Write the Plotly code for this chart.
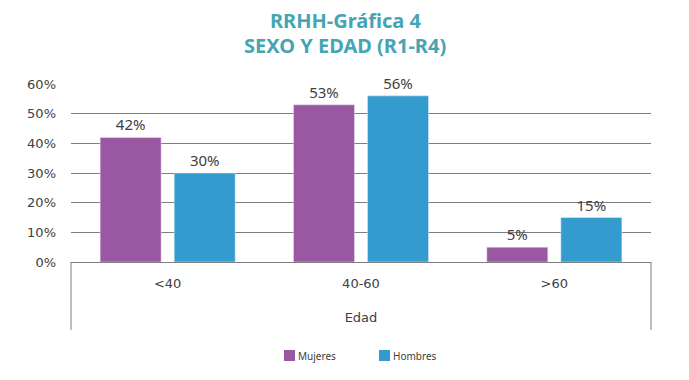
import plotly.graph_objects as go

categories = ["<40", "40-60", ">60"]
mujeres = [0.42, 0.53, 0.05]
hombres = [0.30, 0.56, 0.15]
y_ticks = [0, 0.1, 0.2, 0.3, 0.4, 0.5, 0.6]
y_tick_labels = ["0%", "10%", "20%", "30%", "40%", "50%", "60%"]
series_names = ["Mujeres", "Hombres"]
series_colors = ["#9B58A2", "#339BCE"]

text_color = "#404040"
OFF = 8  # page body margin
W, H = 689 - OFF, 380 - OFF
# plot area in page pixels: x 71..651, y 84..262
L, R, T, B = 71 - OFF, 689 - 651, 84 - OFF, 380 - 262
pw, ph = W - L - R, H - T - B

fig = go.Figure()
for name, vals, col in zip(series_names, [mujeres, hombres], series_colors):
    fig.add_trace(go.Bar(
        name=name, x=categories, y=vals,
        marker_color=col,
        text=[f"{v*100:.0f}%" for v in vals], textposition="outside",
        textfont=dict(size=15, color=text_color, family="Noto Sans"),
        cliponaxis=False,
    ))

def px_x(x):  # page px -> paper
    return (x - OFF - L) / pw

def px_y(y):
    return (H - B - (y - OFF)) / ph

fig.update_layout(
    width=W, height=H,
    margin=dict(l=L, r=R, t=T, b=B, autoexpand=False),
    paper_bgcolor="white", plot_bgcolor="white",
    barmode="group", bargap=0.234, bargroupgap=0.176,
    font=dict(family="DejaVu Sans", color=text_color, size=13),
    showlegend=False,
)
for txt, yc in [("RRHH-Gráfica 4", 20), ("SEXO Y EDAD (R1-R4)", 46)]:
    fig.add_annotation(text=f"<b>{txt}</b>", xref="paper", yref="paper",
                       x=px_x(345), y=px_y(yc), xanchor="center", yanchor="middle",
                       showarrow=False,
                       font=dict(family="Noto Sans", size=20, color="#45A5B5"))

fig.update_yaxes(
    range=[0, 0.6], tickvals=y_ticks, ticktext=y_tick_labels,
    showgrid=True, gridcolor="#7F7F7F", gridwidth=1,
    zeroline=True, zerolinecolor="#7F7F7F", zerolinewidth=1,
    showline=False, ticks="", ticklabelstandoff=14, automargin=False,
    tickfont=dict(size=13, color=text_color, family="DejaVu Sans"),
)
fig.update_xaxes(
    showline=False, ticks="", showgrid=False, automargin=False,
    tickfont=dict(size=13, color=text_color, family="DejaVu Sans"),
    ticklabelstandoff=12,
    title=dict(text="Edad", standoff=22, font=dict(size=13, color=text_color, family="DejaVu Sans")),
)
for xp in [0, 1]:
    fig.add_shape(type="line", xref="paper", yref="paper",
                  x0=xp, x1=xp, y0=0, y1=px_y(330),
                  line=dict(color="#7F7F7F", width=1))

legend_items = [(284, series_names[0], series_colors[0]), (379, series_names[1], series_colors[1])]
for x0, name, col in legend_items:
    fig.add_shape(type="rect", xref="paper", yref="paper",
                  x0=px_x(x0), x1=px_x(x0 + 11), y0=px_y(361), y1=px_y(350),
                  fillcolor=col, line=dict(width=0))
    fig.add_annotation(text=name, xref="paper", yref="paper",
                       x=px_x(x0 + 12), y=px_y(355.5), xanchor="left", yanchor="middle",
                       showarrow=False,
                       font=dict(size=10, color=text_color, family="Noto Sans"))

fig.write_html("out.html")
